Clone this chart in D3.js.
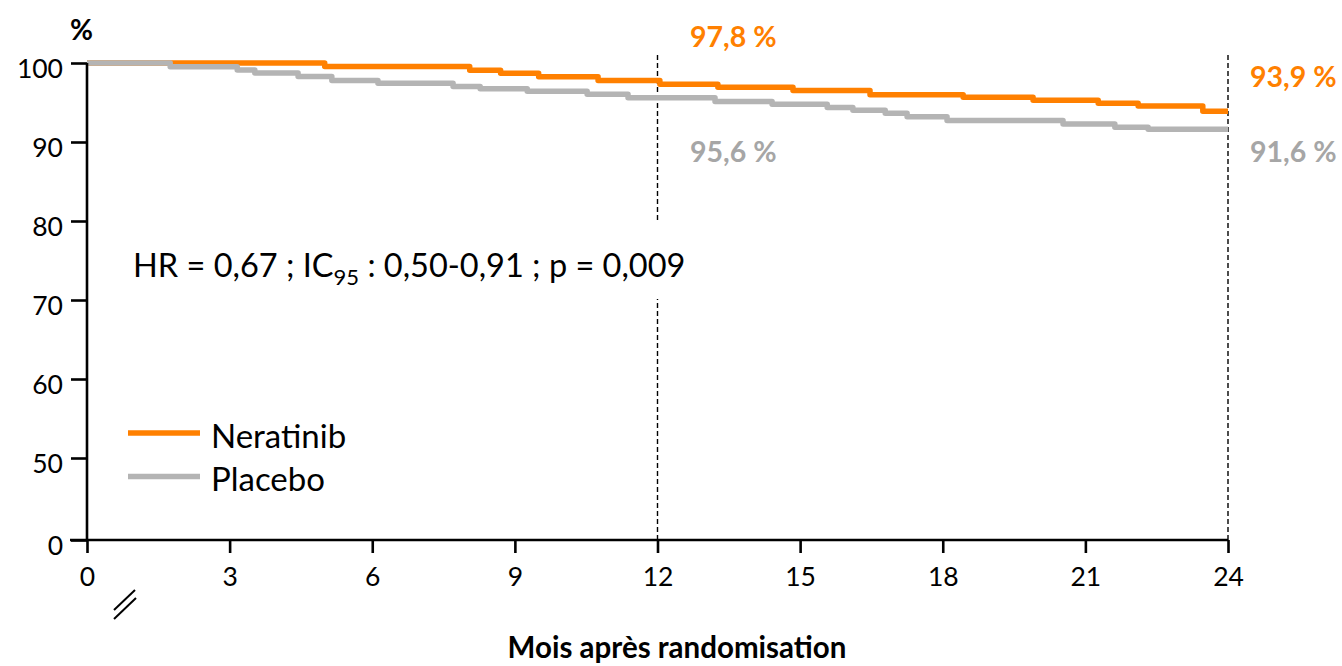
<!DOCTYPE html>
<html>
<head>
<meta charset="utf-8">
<script src="https://cdn.jsdelivr.net/npm/d3@7"></script>
<style>
  html, body { margin: 0; padding: 0; background: #fff; }
  svg { display: block; font-family: Lato, "Open Sans", sans-serif; }
</style>
</head>
<body>
<svg id="chart" width="1342" height="666"></svg>
<script>
// Survie sans maladie invasive – étapes de Kaplan-Meier (mois, %)
const monthsNeratinib = [0, 5.0, 8.05, 8.7, 9.5, 10.75, 12.05, 13.27, 14.85, 16.47, 18.43, 19.9, 21.27, 22.11, 23.47, 24];
const survNeratinib   = [100, 99.55, 99.09, 98.69, 98.25, 97.8, 97.31, 96.94, 96.53, 95.98, 95.68, 95.27, 94.91, 94.55, 93.9, 93.9];

const monthsPlacebo = [0, 1.75, 3.16, 3.53, 4.44, 5.15, 6.12, 7.7, 8.27, 9.26, 10.52, 11.38, 13.21, 14.41, 15.57, 16.11, 16.79, 17.25, 18.09, 20.53, 21.62, 22.32, 24];
const survPlacebo   = [100, 99.53, 99.10, 98.72, 98.29, 97.77, 97.44, 97.02, 96.73, 96.41, 96.03, 95.6, 95.14, 94.79, 94.36, 94.01, 93.65, 93.19, 92.73, 92.27, 91.87, 91.6, 91.6];

const xTicks = [0, 3, 6, 9, 12, 15, 18, 21, 24];
const yTicks = [0, 50, 60, 70, 80, 90, 100];
const markTimes = [12, 24];
const seriesNames = ["Neratinib", "Placebo"];
const statText = { pre: "HR = 0,67 ; IC", sub: "95", post: " : 0,50-0,91 ; p = 0,009" };
const xTitle = "Mois après randomisation";
const yTitle = "%";

const ORANGE = "#ff8000";
const GREY = "#b4b4b4";
const GREY_TEXT = "#a6a6a6";

const svg = d3.select("#chart");

const x = d3.scaleLinear().domain([0, 24]).range([87, 1228]);
// axe coupé : 0 puis 50–100
const y = d3.scaleLinear().domain([0, 50, 100]).range([540, 458, 63]);

const toPts = (ms, vs) => ms.map((m, i) => [m, vs[i]]);
const neratinib = toPts(monthsNeratinib, survNeratinib);
const placebo = toPts(monthsPlacebo, survPlacebo);

const valueAt = (pts, t) => {
  let v = pts[0][1];
  for (const p of pts) if (p[0] <= t) v = p[1];
  return v;
};
const fmt = v => d3.format(".1f")(v).replace(".", ",") + " %";

// lignes verticales pointillées à 12 et 24 mois
svg.append("g").selectAll("line").data(markTimes).join("line")
  .attr("x1", d => x(d)).attr("x2", d => x(d))
  .attr("y1", 55).attr("y2", y(0))
  .attr("stroke", "#000").attr("stroke-width", 1.4)
  .attr("stroke-dasharray", "5,3");

// bloc statistique sur fond blanc
const statG = svg.append("g");
statG.append("rect")
  .attr("x", 120).attr("y", y(80) + 1).attr("width", 600).attr("height", y(70) - y(80) - 2)
  .attr("fill", "#fff");
const st = statG.append("text")
  .attr("x", 133).attr("y", 277)
  .attr("font-size", 32.5).attr("fill", "#000");
st.append("tspan").text(statText.pre);
st.append("tspan").attr("font-size", 22).attr("dy", 8).text(statText.sub);
st.append("tspan").attr("dy", -8).text(statText.post);

// courbes
const line = d3.line().x(d => x(d[0])).y(d => y(d[1])).curve(d3.curveStepAfter);
svg.append("path").datum(neratinib).attr("d", line)
  .attr("fill", "none").attr("stroke", ORANGE).attr("stroke-width", 5.5)
  .attr("stroke-linejoin", "round");
svg.append("path").datum(placebo).attr("d", line)
  .attr("fill", "none").attr("stroke", GREY).attr("stroke-width", 5.5)
  .attr("stroke-linejoin", "round");

// axes
const yAxis = svg.append("g").attr("transform", `translate(${x(0)},0)`)
  .call(d3.axisLeft(y).tickValues(yTicks).tickSize(16).tickPadding(8));
const xAxis = svg.append("g").attr("transform", `translate(0,${y(0)})`)
  .call(d3.axisBottom(x).tickValues(xTicks).tickSize(13).tickPadding(14));
[yAxis, xAxis].forEach(g => {
  g.select(".domain").attr("stroke", "#000").attr("stroke-width", 2.6);
  g.selectAll(".tick line").attr("stroke", "#000").attr("stroke-width", 2.6);
  g.selectAll(".tick text").attr("font-size", 26.5).attr("fill", "#000")
    .attr("font-family", "Lato, 'Open Sans', sans-serif");
});
yAxis.select(".domain").attr("d", `M0,${y(100)}V${y(0)}`);
yAxis.selectAll(".tick text").attr("dy", "0.55em");
xAxis.select(".domain").attr("d", `M${x(0) - 17},0H${x(24)}`);

// marque de coupure sous l'axe
const brk = svg.append("g").attr("stroke", "#000").attr("stroke-width", 2);
brk.append("line").attr("x1", 114).attr("y1", 610).attr("x2", 135).attr("y2", 590);
brk.append("line").attr("x1", 114).attr("y1", 619).attr("x2", 136).attr("y2", 598);

// titres
svg.append("text").attr("x", 677).attr("y", 658).attr("text-anchor", "middle")
  .attr("font-size", 29.5).attr("font-weight", "bold").attr("fill", "#000").text(xTitle);
svg.append("text").attr("x", 70).attr("y", 40)
  .attr("font-size", 28).attr("font-weight", "bold").attr("fill", "#000").text(yTitle);

// valeurs à 12 et 24 mois
const labels = [
  { t: 12, v: valueAt(neratinib, 12), c: ORANGE, xp: 690, yp: 47 },
  { t: 12, v: valueAt(placebo, 12), c: GREY_TEXT, xp: 690, yp: 162 },
  { t: 24, v: valueAt(neratinib, 24), c: ORANGE, xp: 1250, yp: 87 },
  { t: 24, v: valueAt(placebo, 24), c: GREY_TEXT, xp: 1250, yp: 162 }
];
svg.append("g").selectAll("text").data(labels).join("text")
  .attr("x", d => d.xp).attr("y", d => d.yp)
  .attr("font-size", 28.5).attr("font-weight", "bold").attr("fill", d => d.c)
  .text(d => fmt(d.v));

// légende
const leg = svg.append("g");
const legColors = [ORANGE, GREY];
seriesNames.forEach((name, i) => {
  const ly = 433 + i * 43.5;
  leg.append("line").attr("x1", 128).attr("x2", 200).attr("y1", ly).attr("y2", ly)
    .attr("stroke", legColors[i]).attr("stroke-width", 5.5);
  leg.append("text").attr("x", 211).attr("y", ly + 14.5)
    .attr("font-size", 33).attr("fill", "#000").text(name);
});
</script>
</body>
</html>
